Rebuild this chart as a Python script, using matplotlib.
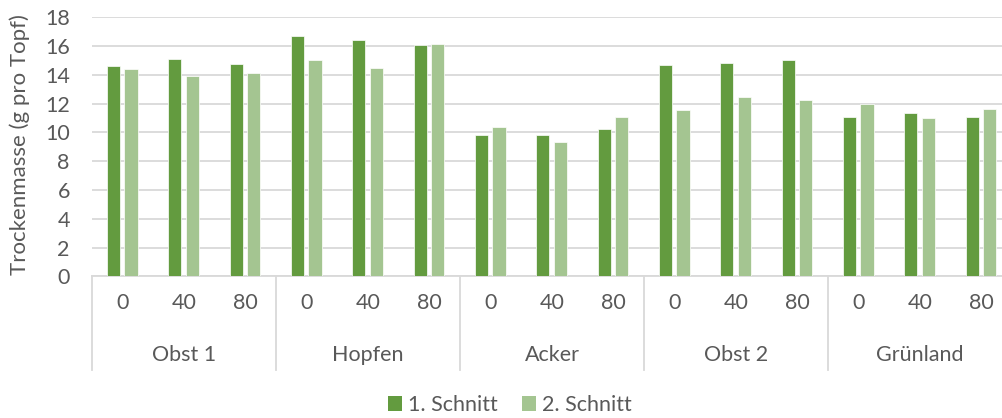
import matplotlib.pyplot as plt
import matplotlib.transforms as mtransforms
from matplotlib.patches import Patch
import numpy as np

# Daten
gruppen = ['Obst 1', 'Hopfen', 'Acker', 'Obst 2', 'Grünland']
stufen = ['0', '40', '80']
schnitt_1 = [14.6, 15.1, 14.75, 16.7, 16.4, 16.1, 9.85, 9.8, 10.25,
             14.7, 14.85, 15.0, 11.05, 11.35, 11.1]
schnitt_2 = [14.4, 13.9, 14.1, 15.0, 14.5, 16.15, 10.35, 9.3, 11.05,
             11.55, 12.45, 12.25, 11.95, 11.0, 11.65]
y_ticks = [0, 2, 4, 6, 8, 10, 12, 14, 16, 18]

farbe_1 = '#639B3F'
farbe_2 = '#A4C591'
grau = '#595959'
gitter = '#D9D9D9'

plt.rcParams['font.family'] = ['Lato', 'DejaVu Sans']

fig = plt.figure(figsize=(10.03, 4.18), dpi=100)
ax = fig.add_axes([92/1003, 1-276.3/418, 920/1003, (276.3-17.3)/418])

n = len(schnitt_1)
x = np.arange(n) + 0.5
breite = 0.215
ax.bar(x - 0.15, schnitt_1, width=breite, color=farbe_1, edgecolor='white', linewidth=0.5, zorder=3)
ax.bar(x + 0.135, schnitt_2, width=breite, color=farbe_2, edgecolor='white', linewidth=0.5, zorder=3)

ax.set_xlim(0, n)
ax.set_ylim(0, 18)
ax.set_yticks(y_ticks)
ax.yaxis.grid(True, color=gitter, linewidth=1.3, zorder=0)
ax.tick_params(axis='y', length=0, pad=16, labelsize=15.5, labelcolor=grau)
for s in ['top', 'right', 'left']:
    ax.spines[s].set_visible(False)
ax.spines['bottom'].set_color(gitter)
ax.spines['bottom'].set_linewidth(1.3)

# Kategorienachse mit zwei Ebenen
ax.set_xticks(x)
ax.set_xticklabels(stufen * len(gruppen))
ax.tick_params(axis='x', length=0, pad=12, labelsize=15.5, labelcolor=grau)

trans = mtransforms.blended_transform_factory(ax.transData, ax.transAxes)
unten = -(370-276.3)/(276.3-17.3)
for i in range(len(gruppen) + 1):
    ax.plot([3*i, 3*i], [0, unten], transform=trans, color=gitter,
            linewidth=1.3, clip_on=False)
for i, g in enumerate(gruppen):
    ax.text(3*i + 1.5, -(355-276.3)/(276.3-17.3), g, transform=trans,
            ha='center', va='center', fontsize=15.5, color=grau)

fig.text(20/1003, 1-145/418, 'Trockenmasse (g pro Topf)', rotation=90,
         ha='center', va='center', fontsize=16, color=grau)

handles = [Patch(facecolor=farbe_1, label='1. Schnitt'),
           Patch(facecolor=farbe_2, label='2. Schnitt')]
fig.legend(handles=handles, loc='center', bbox_to_anchor=(510/1003, 1-405/418),
           ncol=2, frameon=False, fontsize=15.5, labelcolor=grau,
           handlelength=0.65, handleheight=0.65, handletextpad=0.3,
           columnspacing=1.1)

fig.savefig('out.png', dpi=100)
